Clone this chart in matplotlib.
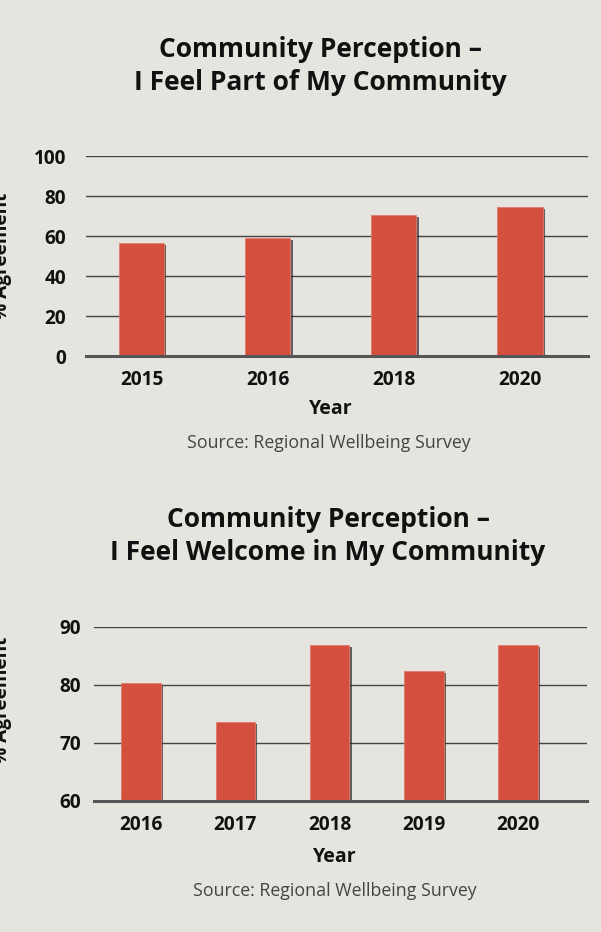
import matplotlib
matplotlib.use("Agg")
import matplotlib.pyplot as plt
import matplotlib.patheffects as pe

# ---- data ----
years_part = ["2015", "2016", "2018", "2020"]
values_part = [56.5, 59, 70.5, 74.5]
yticks_part = [0, 20, 40, 60, 80, 100]

years_welcome = ["2016", "2017", "2018", "2019", "2020"]
values_welcome = [80.4, 73.6, 86.9, 82.4, 86.9]
yticks_welcome = [60, 70, 80, 90]

title_part = "Community Perception –\nI Feel Part of My Community"
title_welcome = "Community Perception –\nI Feel Welcome in My Community"
source_text = "Source: Regional Wellbeing Survey"
xlabel_text = "Year"
ylabel_text = "% Agreement"

BG = "#E5E4DE"
BAR = "#D44F3E"
FONT = "Open Sans"

W, H = 601, 932
fig = plt.figure(figsize=(W / 100, H / 100), dpi=100, facecolor=BG)


def px_axes(left, top, right, bottom):
    return fig.add_axes([left / W, 1 - bottom / H, (right - left) / W, (bottom - top) / H])


def draw(ax, cats, vals, yticks, ylim, xlim, width, ypad):
    ax.set_facecolor(BG)
    x = list(range(len(cats)))
    bars = ax.bar(x, vals, width=width, color=BAR, edgecolor="#E07A6C",
                  linewidth=0.6, zorder=3)
    for b in bars:
        b.set_path_effects([pe.SimplePatchShadow(offset=(1.6, -1.6), shadow_rgbFace="#2a2a2a", alpha=0.7),
                            pe.Normal()])
    ax.set_xticks(x)
    ax.set_xticklabels(cats, fontfamily=FONT, fontweight="bold", fontsize=13.7, color="#111")
    ax.set_yticks(yticks)
    ax.set_yticklabels([str(v) for v in yticks], fontfamily=FONT, fontweight="bold",
                       fontsize=13.7, color="#111")
    ax.set_ylim(*ylim)
    ax.set_xlim(*xlim)
    ax.tick_params(axis="both", length=0)
    ax.tick_params(axis="y", pad=ypad)
    ax.tick_params(axis="x", pad=10)
    for s in ["left", "right", "top"]:
        ax.spines[s].set_visible(False)
    ax.spines["bottom"].set_color("#555555")
    ax.spines["bottom"].set_linewidth(2.2)
    ax.spines["bottom"].set_zorder(4)
    ax.yaxis.grid(True, color="#444444", linewidth=1.0, zorder=0)
    ax.set_axisbelow(True)


# chart 1
ax1 = px_axes(86, 156, 588, 356)
draw(ax1, years_part, values_part, yticks_part, (0, 100), (-0.44, 3.54), 0.36, 14.4)
fig.text(320 / W, 1 - 66 / H, title_part, ha="center", va="center", fontfamily=FONT,
         fontweight="bold", fontsize=19, linespacing=1.25, color="#111")
fig.text(331 / W, 1 - 409 / H, xlabel_text, ha="center", va="center", fontfamily=FONT,
         fontweight="bold", fontsize=14, color="#111")
fig.text(329 / W, 1 - 443 / H, source_text, ha="center", va="center", fontfamily=FONT,
         fontsize=12.8, color="#444444")
fig.text(2 / W, 1 - 256 / H, ylabel_text, ha="center", va="center", rotation=90,
         fontfamily=FONT, fontweight="bold", fontsize=13.7, color="#111")

# chart 2
ax2 = px_axes(94, 627, 587, 801)
draw(ax2, years_welcome, values_welcome, yticks_welcome, (60, 90), (-0.5, 4.73), 0.42, 9.4)
fig.text(328 / W, 1 - 536 / H, title_welcome, ha="center", va="center", fontfamily=FONT,
         fontweight="bold", fontsize=19, linespacing=1.25, color="#111")
fig.text(335 / W, 1 - 857 / H, xlabel_text, ha="center", va="center", fontfamily=FONT,
         fontweight="bold", fontsize=14, color="#111")
fig.text(335 / W, 1 - 891 / H, source_text, ha="center", va="center", fontfamily=FONT,
         fontsize=12.8, color="#444444")
fig.text(2 / W, 1 - 700 / H, ylabel_text, ha="center", va="center", rotation=90,
         fontfamily=FONT, fontweight="bold", fontsize=13.7, color="#111")

fig.savefig("out.png", dpi=100, facecolor=BG)
